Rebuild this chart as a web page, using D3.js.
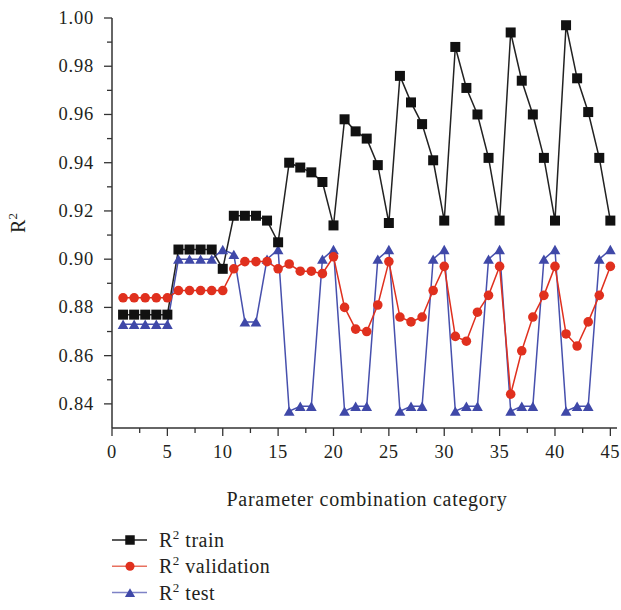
<!DOCTYPE html>
<html>
<head>
<meta charset="utf-8">
<script src="https://cdn.jsdelivr.net/npm/d3@7"></script>
<style>
  body { margin: 0; background: #fff; }
  text { font-family: "Liberation Serif", "DejaVu Serif", serif; fill: #231f20; }
</style>
</head>
<body>
<div id="chart"></div>
<script>
const categories = d3.range(1, 46);

const train = [
  0.877, 0.877, 0.877, 0.877, 0.877,
  0.904, 0.904, 0.904, 0.904, 0.896,
  0.918, 0.918, 0.918, 0.916, 0.907,
  0.940, 0.938, 0.936, 0.932, 0.914,
  0.958, 0.953, 0.950, 0.939, 0.915,
  0.976, 0.965, 0.956, 0.941, 0.916,
  0.988, 0.971, 0.960, 0.942, 0.916,
  0.994, 0.974, 0.960, 0.942, 0.916,
  0.997, 0.975, 0.961, 0.942, 0.916
];

const validation = [
  0.884, 0.884, 0.884, 0.884, 0.884,
  0.887, 0.887, 0.887, 0.887, 0.887,
  0.896, 0.899, 0.899, 0.899, 0.896,
  0.898, 0.895, 0.895, 0.894, 0.901,
  0.880, 0.871, 0.870, 0.881, 0.899,
  0.876, 0.874, 0.876, 0.887, 0.897,
  0.868, 0.866, 0.878, 0.885, 0.897,
  0.844, 0.862, 0.876, 0.885, 0.897,
  0.869, 0.864, 0.874, 0.885, 0.897
];

const test = [
  0.873, 0.873, 0.873, 0.873, 0.873,
  0.900, 0.900, 0.900, 0.900, 0.904,
  0.902, 0.874, 0.874, 0.900, 0.904,
  0.837, 0.839, 0.839, 0.900, 0.904,
  0.837, 0.839, 0.839, 0.900, 0.904,
  0.837, 0.839, 0.839, 0.900, 0.904,
  0.837, 0.839, 0.839, 0.900, 0.904,
  0.837, 0.839, 0.839, 0.900, 0.904,
  0.837, 0.839, 0.839, 0.900, 0.904
];

const xTicks = [0, 5, 10, 15, 20, 25, 30, 35, 40, 45];
const yTicks = [0.84, 0.86, 0.88, 0.90, 0.92, 0.94, 0.96, 0.98, 1.00];

const seriesNames = ["train", "validation", "test"];

const width = 621, height = 610;

const svg = d3.select('#chart')
  .append('svg')
  .attr('width', width)
  .attr('height', height);

const x = d3.scaleLinear().domain([0, 45.6]).range([112, 617]);
const y = d3.scaleLinear().domain([0.83, 1.00]).range([428, 18]);

// Axes
const xMinor = d3.range(2.5, 46, 5);
const yMinor = d3.range(0.85, 1.0, 0.02);

const xAxis = svg.append('g').attr('transform', `translate(0,${y(0.83)})`);
xAxis.append('line')
  .attr('x1', x(0)).attr('x2', x(45.6))
  .attr('stroke', '#333').attr('stroke-width', 1.5);
xAxis.selectAll('.xmaj').data(xTicks).join('line')
  .attr('class', 'xmaj')
  .attr('x1', d => x(d)).attr('x2', d => x(d))
  .attr('y1', 0).attr('y2', 8)
  .attr('stroke', '#333').attr('stroke-width', 1.3);
xAxis.selectAll('.xmin').data(xMinor).join('line')
  .attr('class', 'xmin')
  .attr('x1', d => x(d)).attr('x2', d => x(d))
  .attr('y1', 0).attr('y2', 5)
  .attr('stroke', '#333').attr('stroke-width', 1.3);
xAxis.selectAll('.xlab').data(xTicks).join('text')
  .attr('class', 'xlab')
  .attr('x', d => x(d)).attr('y', 30)
  .attr('text-anchor', 'middle')
  .attr('font-size', 18.5)
  .attr('letter-spacing', 0.6)
  .text(d => d);

const yAxis = svg.append('g').attr('transform', `translate(${x(0)},0)`);
yAxis.append('line')
  .attr('y1', y(0.83)).attr('y2', y(1.0))
  .attr('stroke', '#333').attr('stroke-width', 1.5);
yAxis.selectAll('.ymaj').data(yTicks).join('line')
  .attr('class', 'ymaj')
  .attr('y1', d => y(d)).attr('y2', d => y(d))
  .attr('x1', -8).attr('x2', 0)
  .attr('stroke', '#333').attr('stroke-width', 1.3);
yAxis.selectAll('.ymin').data(yMinor).join('line')
  .attr('class', 'ymin')
  .attr('y1', d => y(d)).attr('y2', d => y(d))
  .attr('x1', -5).attr('x2', 0)
  .attr('stroke', '#333').attr('stroke-width', 1.3);
yAxis.selectAll('.ylab').data(yTicks).join('text')
  .attr('class', 'ylab')
  .attr('x', -18).attr('y', d => y(d) + 6)
  .attr('text-anchor', 'end')
  .attr('font-size', 18.5)
  .attr('letter-spacing', 0.8)
  .text(d => d.toFixed(2));

// Axis titles
svg.append('text')
  .attr('x', 367).attr('y', 506)
  .attr('text-anchor', 'middle')
  .attr('font-size', 20)
  .attr('letter-spacing', 0.7)
  .text('Parameter combination category');

const yTitle = svg.append('text')
  .attr('transform', 'translate(25,223) rotate(-90)')
  .attr('text-anchor', 'middle')
  .attr('font-size', 20);
yTitle.append('tspan').text('R');
yTitle.append('tspan').attr('font-size', 13).attr('dy', -8).text('2');

// Series
const styles = {
  train: { data: train, line: '#222', fill: '#111', legendLine: '#222', symbol: d3.symbolSquare, size: 100, dy: 0 },
  validation: { data: validation, line: '#e0301e', fill: '#e0301e', legendLine: '#e8705f', symbol: d3.symbolCircle, size: 72, dy: 0 },
  test: { data: test, line: '#4750ad', fill: '#3f48a8', legendLine: '#7e82c6', symbol: d3.symbolTriangle, size: 50, dy: 1.5 }
};

const line = d3.line()
  .x((d, i) => x(categories[i]))
  .y(d => y(d));

// test first, then validation, then train on top
['test', 'validation', 'train'].forEach(name => {
  const s = styles[name];
  svg.append('path')
    .datum(s.data)
    .attr('fill', 'none')
    .attr('stroke', s.line)
    .attr('stroke-width', 1.5)
    .attr('d', line);
});

['test', 'validation', 'train'].forEach(name => {
  const s = styles[name];
  svg.append('g').selectAll('path')
    .data(s.data)
    .join('path')
    .attr('transform', (d, i) => `translate(${x(categories[i])},${y(d) + s.dy})`)
    .attr('d', d3.symbol().type(s.symbol).size(s.size))
    .attr('fill', s.fill);
});

// Legend
const legend = svg.append('g');
seriesNames.forEach((name, i) => {
  const s = styles[name];
  const cy = 540 + i * 26.3;
  const g = legend.append('g').attr('transform', `translate(0,${cy})`);
  g.append('line')
    .attr('x1', 112).attr('x2', 147)
    .attr('stroke', s.legendLine).attr('stroke-width', 1.5);
  g.append('path')
    .attr('transform', `translate(130,${s.dy})`)
    .attr('d', d3.symbol().type(s.symbol).size(s.size * 0.9))
    .attr('fill', s.fill);
  const t = g.append('text')
    .attr('x', 159).attr('y', 7)
    .attr('font-size', 20)
    .attr('letter-spacing', 0.5);
  t.append('tspan').text('R');
  t.append('tspan').attr('font-size', 13).attr('dy', -8).text('2');
  t.append('tspan').attr('dy', 8).text(' ' + name);
});
</script>
</body>
</html>
